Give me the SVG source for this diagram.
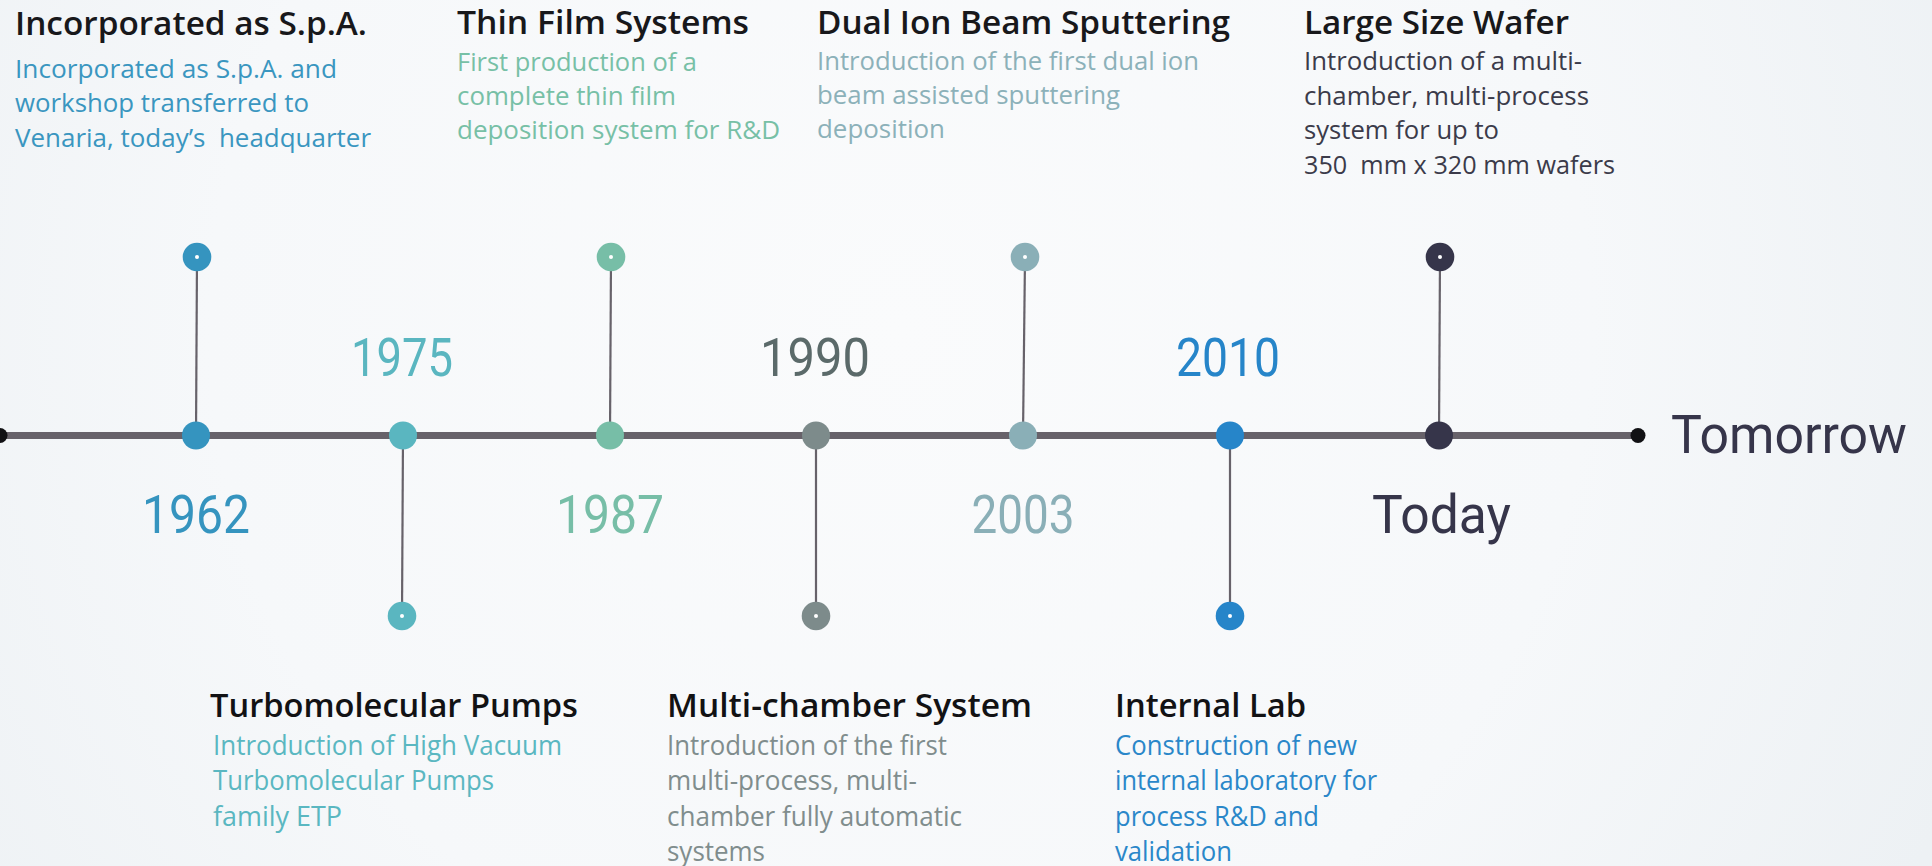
<svg xmlns="http://www.w3.org/2000/svg" width="1932" height="866" viewBox="0 0 1932 866">
  <defs>
    <radialGradient id="bg" cx="900" cy="330" r="1150" gradientUnits="userSpaceOnUse">
      <stop offset="0" stop-color="#fafbfc"/>
      <stop offset="0.6" stop-color="#f6f8fa"/>
      <stop offset="1" stop-color="#edf1f4"/>
    </radialGradient>
  </defs>
  <style>
    .axis { stroke: #67626a; stroke-width: 7; }
    .stem { stroke: #67626a; stroke-width: 2.2; }
    .end { fill: #111114; }
    .hole { fill: #ffffff; }
    .tt { font-family: "Open Sans", "Liberation Sans", sans-serif; font-size: 32px; font-weight: 600; fill: #18181b; }
    .td { font-family: "Open Sans", "Liberation Sans", sans-serif; font-size: 26px; }
    .yr { font-family: Roboto, "Liberation Sans", sans-serif; font-size: 53px; }
    .bt { font-family: "Open Sans", "Liberation Sans", sans-serif; font-size: 32px; font-weight: 600; fill: #121214; }
    .bd { font-family: "Open Sans", "Liberation Sans", sans-serif; font-size: 27px; }
    .pre { white-space: pre; }
  </style>

  <rect width="1932" height="866" fill="url(#bg)"/>

  <!-- timeline axis and stems -->
  <g id="connectors">
    <line class="axis" x1="0" y1="435.5" x2="1638" y2="435.5"/>
    <line class="stem" x1="197" y1="257" x2="196" y2="435"/>
    <line class="stem" x1="403" y1="435" x2="402" y2="616"/>
    <line class="stem" x1="611" y1="257" x2="610" y2="435"/>
    <line class="stem" x1="816" y1="435" x2="816" y2="616"/>
    <line class="stem" x1="1025" y1="257" x2="1023" y2="435"/>
    <line class="stem" x1="1230" y1="435" x2="1230" y2="616"/>
    <line class="stem" x1="1440" y1="257" x2="1439" y2="435"/>
  </g>

  <g id="start">
    <circle class="end" cx="0" cy="435.5" r="7.5"/>
  </g>

  <g id="node-1962">
    <circle cx="196" cy="435.5" r="14" fill="#3594bf"/>
    <circle cx="197" cy="257" r="14.3" fill="#3594bf"/>
    <circle class="hole" cx="197" cy="257" r="2"/>
    <text class="yr" x="196" y="533" text-anchor="middle" fill="#3594bf" textLength="108" lengthAdjust="spacingAndGlyphs">1962</text>
    <text class="tt" x="15" y="35" textLength="352" lengthAdjust="spacingAndGlyphs">Incorporated as S.p.A.</text>
    <g class="td" fill="#3a96c0">
      <text x="15" y="78" textLength="322" lengthAdjust="spacingAndGlyphs">Incorporated as S.p.A. and</text>
      <text x="15" y="112" textLength="294" lengthAdjust="spacingAndGlyphs">workshop transferred to</text>
      <text class="pre" x="15" y="147" textLength="356" lengthAdjust="spacingAndGlyphs">Venaria, today’s  headquarter</text>
    </g>
  </g>

  <g id="node-1975">
    <circle cx="403" cy="435.5" r="14" fill="#5ab6c0"/>
    <circle cx="402" cy="616" r="14.3" fill="#5ab6c0"/>
    <circle class="hole" cx="402" cy="616" r="2"/>
    <text class="yr" x="402" y="376" text-anchor="middle" fill="#5ab6c0" textLength="102" lengthAdjust="spacingAndGlyphs">1975</text>
    <text class="bt" x="210" y="717" textLength="368" lengthAdjust="spacingAndGlyphs">Turbomolecular Pumps</text>
    <g class="bd" fill="#5ab7c1">
      <text x="213" y="755" textLength="349" lengthAdjust="spacingAndGlyphs">Introduction of High Vacuum</text>
      <text x="213" y="790" textLength="281" lengthAdjust="spacingAndGlyphs">Turbomolecular Pumps</text>
      <text x="213" y="826" textLength="129" lengthAdjust="spacingAndGlyphs">family ETP</text>
    </g>
  </g>

  <g id="node-1987">
    <circle cx="610" cy="435.5" r="14" fill="#77bea7"/>
    <circle cx="611" cy="257" r="14.3" fill="#77bea7"/>
    <circle class="hole" cx="611" cy="257" r="2"/>
    <text class="yr" x="610" y="533" text-anchor="middle" fill="#77bea7" textLength="108" lengthAdjust="spacingAndGlyphs">1987</text>
    <text class="tt" x="457" y="34" textLength="292" lengthAdjust="spacingAndGlyphs">Thin Film Systems</text>
    <g class="td" fill="#77c0a6">
      <text x="457" y="71" textLength="240" lengthAdjust="spacingAndGlyphs">First production of a</text>
      <text x="457" y="105" textLength="219" lengthAdjust="spacingAndGlyphs">complete thin film</text>
      <text x="457" y="139" textLength="323" lengthAdjust="spacingAndGlyphs">deposition system for R&amp;D</text>
    </g>
  </g>

  <g id="node-1990">
    <circle cx="816" cy="435.5" r="14" fill="#7d8b8b"/>
    <circle cx="816" cy="616" r="14.3" fill="#7d8b8b"/>
    <circle class="hole" cx="816" cy="616" r="2"/>
    <text class="yr" x="815" y="376" text-anchor="middle" fill="#5b6a6a" textLength="110" lengthAdjust="spacingAndGlyphs">1990</text>
    <text class="bt" x="667" y="717" textLength="365" lengthAdjust="spacingAndGlyphs">Multi-chamber System</text>
    <g class="bd" fill="#808d8d">
      <text x="667" y="755" textLength="280" lengthAdjust="spacingAndGlyphs">Introduction of the first</text>
      <text x="667" y="790" textLength="250" lengthAdjust="spacingAndGlyphs">multi-process, multi-</text>
      <text x="667" y="826" textLength="295" lengthAdjust="spacingAndGlyphs">chamber fully automatic</text>
      <text x="667" y="861" textLength="98" lengthAdjust="spacingAndGlyphs">systems</text>
    </g>
  </g>

  <g id="node-2003">
    <circle cx="1023" cy="435.5" r="14" fill="#8aafb7"/>
    <circle cx="1025" cy="257" r="14.3" fill="#8aafb7"/>
    <circle class="hole" cx="1025" cy="257" r="2"/>
    <text class="yr" x="1023" y="533" text-anchor="middle" fill="#8aafb7" textLength="103" lengthAdjust="spacingAndGlyphs">2003</text>
    <text class="tt" x="817" y="34" textLength="413" lengthAdjust="spacingAndGlyphs">Dual Ion Beam Sputtering</text>
    <g class="td" fill="#8cb1b9">
      <text x="817" y="70" textLength="382" lengthAdjust="spacingAndGlyphs">Introduction of the first dual ion</text>
      <text x="817" y="104" textLength="303" lengthAdjust="spacingAndGlyphs">beam assisted sputtering</text>
      <text x="817" y="138" textLength="128" lengthAdjust="spacingAndGlyphs">deposition</text>
    </g>
  </g>

  <g id="node-2010">
    <circle cx="1230" cy="435.5" r="14" fill="#2685c9"/>
    <circle cx="1230" cy="616" r="14.3" fill="#2685c9"/>
    <circle class="hole" cx="1230" cy="616" r="2"/>
    <text class="yr" x="1228" y="376" text-anchor="middle" fill="#2685c9" textLength="104" lengthAdjust="spacingAndGlyphs">2010</text>
    <text class="bt" x="1115" y="717" textLength="191" lengthAdjust="spacingAndGlyphs">Internal Lab</text>
    <g class="bd" fill="#2a87c9">
      <text x="1115" y="755" textLength="242" lengthAdjust="spacingAndGlyphs">Construction of new</text>
      <text x="1115" y="790" textLength="262" lengthAdjust="spacingAndGlyphs">internal laboratory for</text>
      <text x="1115" y="826" textLength="204" lengthAdjust="spacingAndGlyphs">process R&amp;D and</text>
      <text x="1115" y="861" textLength="117" lengthAdjust="spacingAndGlyphs">validation</text>
    </g>
  </g>

  <g id="node-today">
    <circle cx="1439" cy="435.5" r="14" fill="#36354a"/>
    <circle cx="1440" cy="257" r="14.3" fill="#36354a"/>
    <circle class="hole" cx="1440" cy="257" r="2"/>
    <text class="yr" x="1372" y="533" fill="#36354a" textLength="139" lengthAdjust="spacingAndGlyphs">Today</text>
    <text class="tt" x="1304" y="34" textLength="265" lengthAdjust="spacingAndGlyphs">Large Size Wafer</text>
    <g class="td" fill="#3b3b4a">
      <text x="1304" y="70" textLength="278" lengthAdjust="spacingAndGlyphs">Introduction of a multi-</text>
      <text x="1304" y="105" textLength="285" lengthAdjust="spacingAndGlyphs">chamber, multi-process</text>
      <text x="1304" y="139" textLength="195" lengthAdjust="spacingAndGlyphs">system for up to</text>
      <text class="pre" x="1304" y="174" textLength="311" lengthAdjust="spacingAndGlyphs">350  mm x 320 mm wafers</text>
    </g>
  </g>

  <g id="node-tomorrow">
    <circle class="end" cx="1638" cy="435.5" r="7.5"/>
    <text class="yr" x="1671" y="453" fill="#36354a" textLength="236" lengthAdjust="spacingAndGlyphs">Tomorrow</text>
  </g>
</svg>
